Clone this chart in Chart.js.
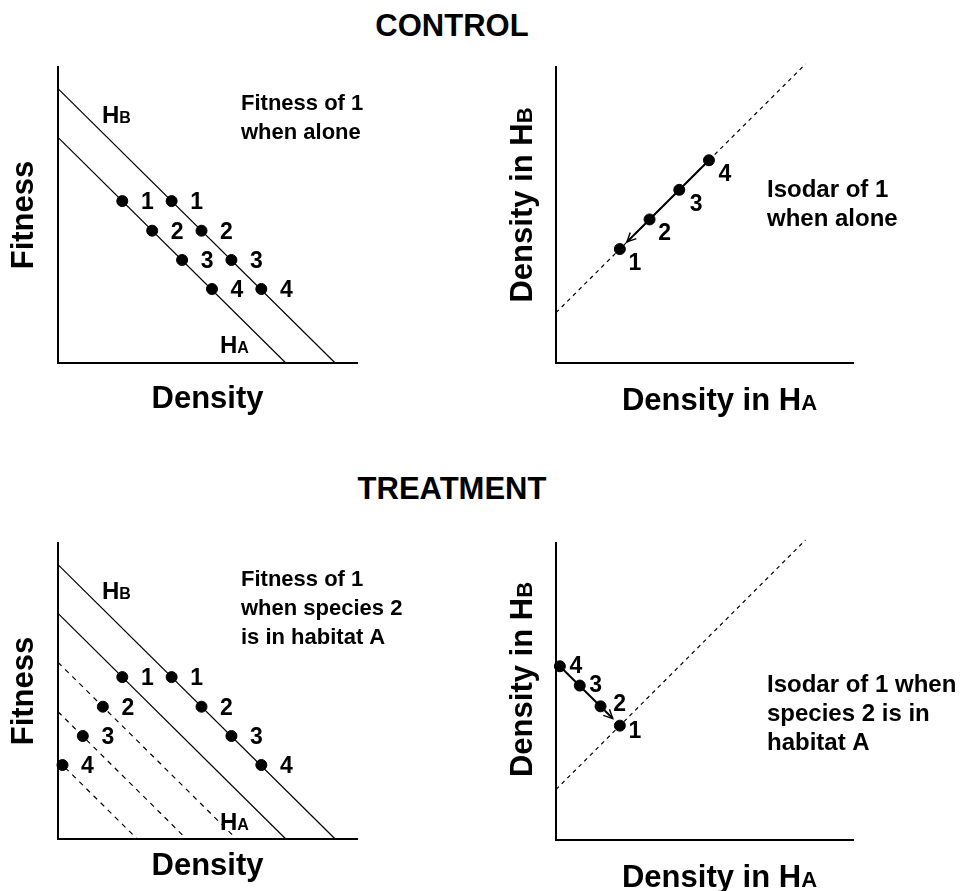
<!DOCTYPE html>
<html lang="en">
  <head>
    <meta charset="UTF-8" />
    <meta name="viewport" content="width=device-width, initial-scale=1.0" />
    <script src="https://cdn.jsdelivr.net/npm/chart.js"></script>
    <title>Isodars</title>
    <style>
      body { margin: 0; background: #fff; font-family: "Liberation Sans", Arial, sans-serif; }
      canvas { position: absolute; }
      .heading {
        position: absolute; left: 0; width: 904px; text-align: center;
        font-weight: bold; font-size: 31px; line-height: 31px; color: #000;
      }
    </style>
  </head>
  <body>
    <div class="heading" style="top: 10px">CONTROL</div>
    <div class="heading" style="top: 473px">TREATMENT</div>
    <canvas id="fitControl" width="480" height="420" style="left: 0; top: 50px"></canvas>
    <canvas id="isoControl" width="481" height="420" style="left: 480px; top: 50px"></canvas>
    <canvas id="fitTreat" width="480" height="371" style="left: 0; top: 520px"></canvas>
    <canvas id="isoTreat" width="481" height="371" style="left: 480px; top: 520px"></canvas>
  </body>
</html>
<script>
  const digitLabels = ["1", "2", "3", "4"];

  // fitness panels: habitat lines (endpoints) and the points of species 1
  const hbLineX = [0, 9.27];
  const hbLineY = [9.27, 0];
  const haLineX = [0, 7.62];
  const haLineY = [7.62, 0];
  const fitnessY = [5.47, 4.47, 3.48, 2.5];
  const controlHbX = [3.8, 4.8, 5.8, 6.8];
  const controlHaX = [2.15, 3.15, 4.15, 5.15];
  const treatHbX = [3.8, 4.8, 5.8, 6.8];
  const treatHaX = [2.15, 1.5, 0.83, 0.15];
  // lowered HA fitness lines in the treatment
  const dashedLineX = [[0, 5.97], [0, 4.3], [0, 2.65]];
  const dashedLineY = [[5.97, 0], [4.3, 0], [2.65, 0]];

  // isodar panels
  const isodarLineX = [0, 8.4];
  const isodarLineY = [1.7, 10.1];
  const isoControlX = [2.15, 3.15, 4.15, 5.15];
  const isoControlY = [3.85, 4.85, 5.85, 6.85];
  const isoTreatX = [2.15, 1.5, 0.8, 0.13];
  const isoTreatY = [3.85, 4.5, 5.2, 5.85];

  const FONT = "'Liberation Sans', Arial, sans-serif";

  function toPoints(xs, ys) {
    return xs.map((x, i) => ({ x: x, y: ys[i] }));
  }

  function lineSet(xs, ys, dash) {
    return {
      data: toPoints(xs, ys),
      showLine: true,
      borderColor: "#000",
      borderWidth: 1.2,
      borderDash: dash || [],
      pointRadius: 0,
      clip: false,
    };
  }

  function pointSet(xs, ys, offsets, arrow) {
    return {
      data: toPoints(xs, ys),
      showLine: false,
      pointRadius: 5.5,
      pointBackgroundColor: "#000",
      pointBorderColor: "#000",
      clip: false,
      labelOffsets: offsets,
      arrow: arrow || false,
    };
  }

  // draws "Density in H" + small letter; align: left / center
  function drawHText(ctx, x, y, main, sub, big, small, align) {
    ctx.font = "bold " + big + "px " + FONT;
    const w1 = ctx.measureText(main).width;
    ctx.font = "bold " + small + "px " + FONT;
    const w2 = ctx.measureText(sub).width;
    let start = align === "center" ? x - (w1 + w2) / 2 : x;
    ctx.textAlign = "left";
    ctx.textBaseline = "alphabetic";
    ctx.font = "bold " + big + "px " + FONT;
    ctx.fillText(main, start, y);
    ctx.font = "bold " + small + "px " + FONT;
    ctx.fillText(sub, start + w1, y);
  }

  // numbers next to points and the arrow along the isodar points
  const markPlugin = {
    id: "marks",
    afterDatasetsDraw(chart) {
      const ctx = chart.ctx;
      chart.data.datasets.forEach((ds, i) => {
        const meta = chart.getDatasetMeta(i);
        if (ds.labelOffsets) {
          ctx.save();
          ctx.font = "bold 23px " + FONT;
          ctx.fillStyle = "#000";
          ctx.textAlign = "center";
          ctx.textBaseline = "alphabetic";
          meta.data.forEach((pt, j) => {
            const off = ds.labelOffsets[j];
            ctx.fillText(digitLabels[j], pt.x + off[0], pt.y + off[1]);
          });
          ctx.restore();
        }
        if (ds.arrow) {
          const p1 = meta.data[0];
          const p2 = meta.data[1];
          const p4 = meta.data[meta.data.length - 1];
          const dx = p2.x - p1.x;
          const dy = p2.y - p1.y;
          const len = Math.sqrt(dx * dx + dy * dy);
          const tx = p1.x + (dx / len) * 10;
          const ty = p1.y + (dy / len) * 10;
          const ang = Math.atan2(ty - p4.y, tx - p4.x);
          ctx.save();
          ctx.strokeStyle = "#000";
          ctx.lineWidth = 2;
          ctx.beginPath();
          ctx.moveTo(p4.x, p4.y);
          ctx.lineTo(tx, ty);
          ctx.stroke();
          ctx.lineWidth = 1.4;
          ctx.beginPath();
          ctx.moveTo(tx - 10 * Math.cos(ang - 0.45), ty - 10 * Math.sin(ang - 0.45));
          ctx.lineTo(tx, ty);
          ctx.lineTo(tx - 10 * Math.cos(ang + 0.45), ty - 10 * Math.sin(ang + 0.45));
          ctx.stroke();
          ctx.restore();
        }
      });
    },
  };

  // axis titles and notes inside each panel
  const textPlugin = {
    id: "panelText",
    afterDraw(chart, args, opts) {
      const ctx = chart.ctx;
      const a = chart.chartArea;
      ctx.save();
      ctx.fillStyle = "#000";

      // x title
      drawHText(ctx, (a.left + a.right) / 2 + opts.xTitleShift, a.bottom + opts.xTitleGap,
        opts.xTitle[0], opts.xTitle[1], 31, 22, "center");

      // y title (rotated)
      ctx.save();
      ctx.translate(a.left - opts.yTitleGap, (a.top + a.bottom) / 2 + opts.yTitleShift);
      ctx.rotate(-Math.PI / 2);
      drawHText(ctx, 0, 0, opts.yTitle[0], opts.yTitle[1], 31, 22, "center");
      ctx.restore();

      // habitat line labels
      (opts.hLabels || []).forEach((h) => {
        drawHText(ctx, a.left + h[0], a.top + h[1], "H", h[2], 24, 16, "left");
      });

      // note block
      ctx.font = "bold " + opts.noteSize + "px " + FONT;
      ctx.textAlign = "left";
      ctx.textBaseline = "alphabetic";
      opts.note.forEach((line, k) => {
        ctx.fillText(line, a.left + opts.noteX, a.top + opts.noteY + k * 29);
      });
      ctx.restore();
    },
  };

  function axis() {
    return {
      type: "linear",
      min: 0,
      max: 10,
      grid: { display: false, drawTicks: false },
      ticks: { display: false },
      border: { display: true, color: "#000", width: 2 },
    };
  }

  function makeChart(id, datasets, padding, text) {
    new Chart(document.getElementById(id), {
      type: "scatter",
      data: { datasets: datasets },
      options: {
        responsive: false,
        animation: false,
        devicePixelRatio: 1,
        layout: { padding: padding },
        scales: { x: axis(), y: axis() },
        plugins: {
          legend: { display: false },
          tooltip: { enabled: false },
          panelText: text,
        },
      },
      plugins: [markPlugin, textPlugin],
    });
  }

  const leftOffsets = [[25, 8], [25, 8], [25, 8], [25, 8]];

  makeChart(
    "fitControl",
    [
      pointSet(controlHaX, fitnessY, leftOffsets),
      pointSet(controlHbX, fitnessY, leftOffsets),
      lineSet(hbLineX, hbLineY),
      lineSet(haLineX, haLineY),
    ],
    { left: 58, right: 123, top: 17, bottom: 107 },
    {
      xTitle: ["Density", ""], xTitleGap: 45, xTitleShift: 0,
      yTitle: ["Fitness", ""], yTitleGap: 25, yTitleShift: 0,
      hLabels: [[44, 56, "B"], [162, 286, "A"]],
      note: ["Fitness of 1", "when alone"], noteX: 183, noteY: 43, noteSize: 22,
    }
  );

  makeChart(
    "isoControl",
    [
      pointSet(isoControlX, isoControlY, [[15, 21], [15, 21], [17, 21], [16, 21]], true),
      lineSet(isodarLineX, isodarLineY, [4, 4]),
    ],
    { left: 76, right: 108, top: 17, bottom: 107 },
    {
      xTitle: ["Density in H", "A"], xTitleGap: 47, xTitleShift: 15,
      yTitle: ["Density in H", "B"], yTitleGap: 24, yTitleShift: -10,
      note: ["Isodar of 1", "when alone"], noteX: 211, noteY: 130, noteSize: 24,
    }
  );

  makeChart(
    "fitTreat",
    [
      pointSet(treatHaX, fitnessY, leftOffsets),
      pointSet(treatHbX, fitnessY, leftOffsets),
      lineSet(hbLineX, hbLineY),
      lineSet(haLineX, haLineY),
      lineSet(dashedLineX[0], dashedLineY[0], [5, 5]),
      lineSet(dashedLineX[1], dashedLineY[1], [5, 5]),
      lineSet(dashedLineX[2], dashedLineY[2], [5, 5]),
    ],
    { left: 58, right: 123, top: 23, bottom: 52 },
    {
      xTitle: ["Density", ""], xTitleGap: 36, xTitleShift: 0,
      yTitle: ["Fitness", ""], yTitleGap: 25, yTitleShift: 0,
      hLabels: [[44, 56, "B"], [162, 287, "A"]],
      note: ["Fitness of 1", "when species 2", "is in habitat A"], noteX: 183, noteY: 43, noteSize: 22,
    }
  );

  makeChart(
    "isoTreat",
    [
      pointSet(isoTreatX, isoTreatY, [[15, 12], [19, 5], [16, 6], [16, 7]], true),
      lineSet(isodarLineX, isodarLineY, [4, 4]),
    ],
    { left: 76, right: 108, top: 23, bottom: 51 },
    {
      xTitle: ["Density in H", "A"], xTitleGap: 47, xTitleShift: 15,
      yTitle: ["Density in H", "B"], yTitleGap: 24, yTitleShift: -12,
      note: ["Isodar of 1 when", "species 2 is in", "habitat A"], noteX: 211, noteY: 149, noteSize: 24,
    }
  );
</script>
